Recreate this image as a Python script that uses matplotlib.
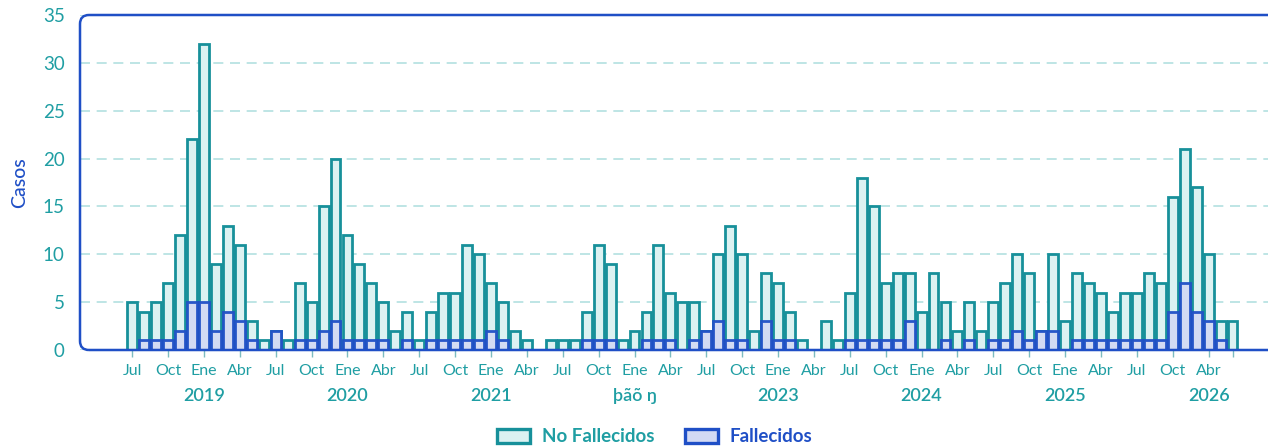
### monthly cases bar chart (overlapping bars)

import numpy as np
import matplotlib
matplotlib.use("Agg")
import matplotlib.pyplot as plt
from matplotlib.patches import Patch, FancyBboxPatch
import matplotlib.transforms as mtransforms

plt.rcParams['font.family'] = ['Lato', 'DejaVu Sans']

# months from Jul 2018 (index 0) to Mar 2026 (index 92)
no_fallecidos = [5, 4, 5, 7, 12, 22, 32, 9, 13, 11, 3, 1,
                 2, 1, 7, 5, 15, 20, 12, 9, 7, 5, 2, 4,
                 1, 4, 6, 6, 11, 10, 7, 5, 2, 1, 0, 1,
                 1, 1, 4, 11, 9, 1, 2, 4, 11, 6, 5, 5,
                 2, 10, 13, 10, 2, 8, 7, 4, 1, 0, 3, 1,
                 6, 18, 15, 7, 8, 8, 4, 8, 5, 2, 5, 2,
                 5, 7, 10, 8, 2, 10, 3, 8, 7, 6, 4, 6,
                 6, 8, 7, 16, 21, 17, 10, 3, 3]
fallecidos = [0, 1, 1, 1, 2, 5, 5, 2, 4, 3, 1, 0,
              2, 0, 1, 1, 2, 3, 1, 1, 1, 1, 0, 1,
              0, 1, 1, 1, 1, 1, 2, 1, 0, 0, 0, 0,
              0, 0, 1, 1, 1, 0, 0, 1, 1, 1, 0, 1,
              2, 3, 1, 1, 0, 3, 1, 1, 0, 0, 0, 0,
              1, 1, 1, 1, 1, 3, 0, 0, 1, 0, 1, 0,
              1, 1, 2, 1, 2, 2, 0, 1, 1, 1, 1, 1,
              1, 1, 1, 4, 7, 4, 3, 1, 0]

# quarter tick labels (the last one reads "Abr" in the original)
tick_labels = ['Jul', 'Oct', 'Ene', 'Abr'] * 7 + ['Jul', 'Oct', 'Abr']
year_labels = ['2019', '2020', '2021', 'þãõ ŋ', '2023', '2024', '2025', '2026']

teal = '#17909a'
teal_fill = '#dcf2f2'
teal_text = '#1f9ea3'
blue = '#1f4fc6'
blue_fill = '#d3daf4'
grid_col = '#b3e0e0'

months = np.arange(len(no_fallecidos))
nf = np.array(no_fallecidos)
f = np.array(fallecidos)

fig = plt.figure(figsize=(12.68, 4.47), dpi=100)
W, H = 1268, 447
ax_left, ax_right, ax_top, ax_bot = 80, 1290, 15, 350
ax = fig.add_axes([ax_left / W, (H - ax_bot) / H,
                   (ax_right - ax_left) / W, (ax_bot - ax_top) / H])

px_per_month = 11.96
x0 = (ax_left - 132.2) / px_per_month
ax.set_xlim(x0, x0 + (ax_right - ax_left) / px_per_month)
ax.set_ylim(0, 35)

m = nf > 0
ax.bar(months[m], nf[m], width=0.83, color=teal_fill, edgecolor=teal,
       linewidth=2.0, zorder=3)
m = f > 0
ax.bar(months[m], f[m], width=0.83, color=blue_fill, edgecolor=blue,
       linewidth=2.0, alpha=0.95, zorder=4)

# grid
ax.set_yticks(range(0, 36, 5))
ax.yaxis.grid(True, color=grid_col, linestyle=(0, (6, 4)), linewidth=1.2, zorder=0)
ax.set_axisbelow(True)
ax.tick_params(axis='y', length=0, pad=11, labelsize=13.5, labelcolor=teal_text)

# x ticks
ticks = list(range(0, 91, 3)) + [92]
ax.set_xticks(ticks)
ax.set_xticklabels(tick_labels + [''])
ax.tick_params(axis='x', length=5, width=1, color='#7cbcc0', pad=5,
               labelsize=11.5, labelcolor=teal_text)

for sp in ax.spines.values():
    sp.set_visible(False)

# rounded frame
aw = ax_right - ax_left
ah = ax_bot - ax_top
frame = FancyBboxPatch((0, 0), 1, 1, transform=ax.transAxes,
                       boxstyle='round,pad=0,rounding_size=%f' % (9 / aw),
                       mutation_aspect=aw / ah, fill=False,
                       edgecolor=blue, linewidth=1.8, clip_on=False, zorder=6)
ax.add_patch(frame)

# year labels under each January
trans = mtransforms.blended_transform_factory(ax.transData, ax.transAxes)
for i, yl in enumerate(year_labels):
    ax.text(6 + 12 * i, -(396 - ax_bot) / ah, yl, transform=trans,
            ha='center', va='center', fontsize=13, fontweight='semibold',
            color=teal_text)

ax.set_ylabel('Casos', color=blue, fontsize=14, fontweight='medium')
ax.yaxis.set_label_coords(-(ax_left - 28) / aw, 0.5)

handles = [Patch(facecolor=teal_fill, edgecolor=teal, linewidth=2.4),
           Patch(facecolor=blue_fill, edgecolor=blue, linewidth=2.4)]
leg = fig.legend(handles, ['No Fallecidos', 'Fallecidos'], loc='center',
                 bbox_to_anchor=(655 / W, (H - 437) / H), ncol=2, frameon=False,
                 handlelength=1.75, handleheight=0.75, handletextpad=0.65,
                 columnspacing=1.6, prop={'size': 13.5, 'weight': 'bold'})
leg.get_texts()[0].set_color(teal_text)
leg.get_texts()[1].set_color(blue)

fig.savefig('out.png', dpi=100)
